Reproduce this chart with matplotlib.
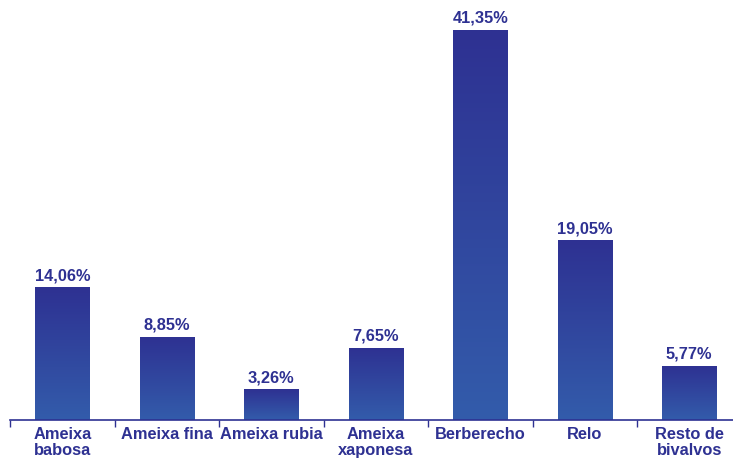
import numpy as np
import matplotlib.pyplot as plt
from matplotlib.colors import LinearSegmentedColormap

categories = ["Ameixa\nbabosa", "Ameixa fina", "Ameixa rubia", "Ameixa\nxaponesa",
              "Berberecho", "Relo", "Resto de\nbivalvos"]
values = [14.06, 8.85, 3.26, 7.65, 41.35, 19.05, 5.77]
labels = ["14,06%", "8,85%", "3,26%", "7,65%", "41,35%", "19,05%", "5,77%"]

txt_color = "#2e3192"
cmap = LinearSegmentedColormap.from_list("bar", ["#335cab", "#2e3192"])

W, H = 733, 459
fig = plt.figure(figsize=(W / 100, H / 100), dpi=100)
# axes runs from x=10 px past the right edge, bottom line at y=420 px
ax = fig.add_axes([10 / W, (H - 420) / H, 731.5 / W, 420 / H])

x = np.arange(len(values))
width = 0.52
bars = ax.bar(x, values, width=width, color="none", edgecolor="none")
grad = np.linspace(0, 1, 256).reshape(-1, 1)
for b in bars:
    x0, y0 = b.get_x(), b.get_y()
    im = ax.imshow(grad, cmap=cmap, aspect="auto", origin="lower",
                   extent=(x0, x0 + b.get_width(), y0, y0 + b.get_height()),
                   zorder=2)
    im.set_clip_path(b)

for xi, v, lab in zip(x, values, labels):
    ax.annotate(lab, (xi, v), xytext=(0, 3), textcoords="offset points",
                ha="center", va="bottom", fontsize=11.8, fontweight="bold",
                color=txt_color, family="Liberation Sans")

ax.set_xlim(-0.5, len(values) - 0.5)
ax.set_ylim(0, 420 / 9.43)
for s in ["top", "right", "left"]:
    ax.spines[s].set_visible(False)
ax.spines["bottom"].set_color(txt_color)
ax.spines["bottom"].set_linewidth(1.2)
ax.set_yticks([])
ax.set_xticks(np.arange(len(values) + 1) - 0.5, minor=True)
ax.set_xticks(x)
ax.set_xticklabels(categories, fontsize=11.8, fontweight="bold", color=txt_color,
                   family="Liberation Sans", linespacing=1.08, va="top")
ax.tick_params(axis="x", which="major", length=0, pad=5)
ax.tick_params(axis="x", which="minor", length=5, color=txt_color, direction="out", width=1)

fig.savefig("out.png", dpi=100)
